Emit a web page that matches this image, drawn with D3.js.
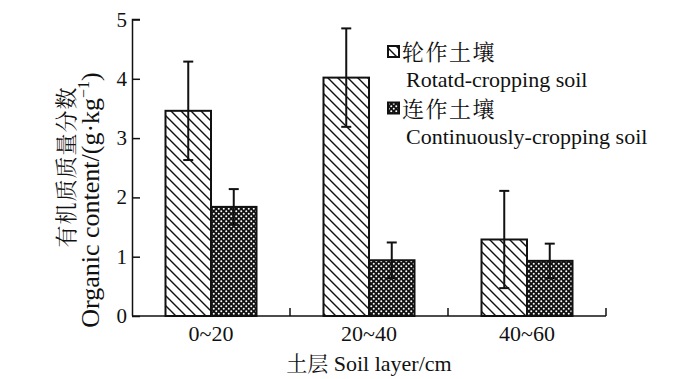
<!DOCTYPE html>
<html>
<head>
<meta charset="utf-8">
<script src="https://cdn.jsdelivr.net/npm/d3@7"></script>
<style>
  body { margin: 0; background: #fff; }
  text { font-family: "Liberation Serif", "Times New Roman", serif; fill: #111; }
  .cjk { font-family: "Noto Serif CJK SC", "Noto Sans CJK SC", sans-serif; }
</style>
</head>
<body>
<div id="chart"></div>
<script>
// soil layers and organic content (g/kg)
const layers = ['0~20', '20~40', '40~60']
const rotated = [3.46, 4.02, 1.29]
const rotatedErr = [0.83, 0.83, 0.82]
const continuous = [1.84, 0.94, 0.93]
const continuousErr = [0.30, 0.30, 0.29]
const yTicks = [0, 1, 2, 3, 4, 5]

const width = 700
const height = 379
const margin = { top: 19.5, right: 94, bottom: 63, left: 132 }

const svg = d3.select('#chart')
    .append('svg')
    .attr('width', width)
    .attr('height', height)

// patterns for the two soil types
const defs = svg.append('defs')
const hatch = defs.append('pattern')
    .attr('id', 'hatch')
    .attr('patternUnits', 'userSpaceOnUse')
    .attr('width', 10)
    .attr('height', 10)
hatch.append('rect').attr('width', 10).attr('height', 10).attr('fill', '#fff')
hatch.append('path')
    .attr('d', 'M-2,-2 L12,12 M-7,3 L7,17 M3,-7 L17,7')
    .attr('stroke', '#111')
    .attr('stroke-width', 1.4)

const cross = defs.append('pattern')
    .attr('id', 'cross')
    .attr('patternUnits', 'userSpaceOnUse')
    .attr('width', 5)
    .attr('height', 5)
cross.append('rect').attr('width', 5).attr('height', 5).attr('fill', '#111')
cross.append('circle').attr('cx', 1.25).attr('cy', 1.25).attr('r', 1).attr('fill', '#fff')
cross.append('circle').attr('cx', 3.75).attr('cy', 3.75).attr('r', 1).attr('fill', '#fff')

const x0 = d3.scaleBand()
    .domain(layers)
    .range([margin.left, width - margin.right])

const yScale = d3.scaleLinear()
    .domain([0, 5])
    .range([height - margin.bottom, margin.top])

const barW = 45.5
const series = [
    { values: rotated, err: rotatedErr, fill: 'url(#hatch)', offset: -barW },
    { values: continuous, err: continuousErr, fill: 'url(#cross)', offset: 0 }
]

// bars
series.forEach(s => {
    svg.append('g')
        .selectAll('rect')
        .data(layers)
        .enter()
        .append('rect')
            .attr('x', d => x0(d) + x0.bandwidth() / 2 + s.offset)
            .attr('y', (d, i) => yScale(s.values[i]))
            .attr('width', barW)
            .attr('height', (d, i) => yScale(0) - yScale(s.values[i]))
            .attr('fill', s.fill)
            .attr('stroke', '#111')
            .attr('stroke-width', 2)
})

// error bars
series.forEach(s => {
    const g = svg.append('g')
    layers.forEach((d, i) => {
        const cx = x0(d) + x0.bandwidth() / 2 + s.offset + barW / 2
        const top = yScale(s.values[i] + s.err[i])
        const bot = yScale(s.values[i] - s.err[i])
        g.append('line')
            .attr('x1', cx).attr('x2', cx)
            .attr('y1', top).attr('y2', bot)
            .attr('stroke', '#111').attr('stroke-width', 2)
        g.append('line')
            .attr('x1', cx - 5).attr('x2', cx + 5)
            .attr('y1', top).attr('y2', top)
            .attr('stroke', '#111').attr('stroke-width', 2)
        g.append('line')
            .attr('x1', cx - 5).attr('x2', cx + 5)
            .attr('y1', bot).attr('y2', bot)
            .attr('stroke', '#111').attr('stroke-width', 2)
    })
})

// y axis, ticks pointing inward
const yAxis = d3.axisRight(yScale)
    .tickValues(yTicks)
    .tickSize(8)
    .tickFormat('')
const yGroup = svg.append('g')
    .attr('transform', `translate(${margin.left},0)`)
    .call(yAxis)
yGroup.selectAll('path, line').attr('stroke', '#111').attr('stroke-width', 1.5)
yGroup.select('.domain').attr('d', `M0.5,${yScale(0)}V${yScale(5)}H8`)

svg.append('g')
    .selectAll('text')
    .data(yTicks)
    .enter()
    .append('text')
        .attr('x', margin.left - 5)
        .attr('y', d => yScale(d) + 7)
        .attr('text-anchor', 'end')
        .attr('font-size', '21px')
        .text(d => d)

// x axis, ticks at band edges pointing up
const edges = layers.map(d => x0(d)).concat([width - margin.right])
svg.append('line')
    .attr('x1', margin.left).attr('x2', width - margin.right)
    .attr('y1', yScale(0)).attr('y2', yScale(0))
    .attr('stroke', '#111').attr('stroke-width', 1.5)
svg.append('g')
    .selectAll('line')
    .data(edges.slice(1))
    .enter()
    .append('line')
        .attr('x1', d => d).attr('x2', d => d)
        .attr('y1', yScale(0)).attr('y2', yScale(0) - 8)
        .attr('stroke', '#111').attr('stroke-width', 1.5)

svg.append('g')
    .selectAll('text')
    .data(layers)
    .enter()
    .append('text')
        .attr('x', d => x0(d) + x0.bandwidth() / 2)
        .attr('y', 341)
        .attr('text-anchor', 'middle')
        .attr('font-size', '22px')
        .text(d => d)

// axis titles
const xTitle = svg.append('text')
    .attr('x', (margin.left + width - margin.right) / 2)
    .attr('y', 371)
    .attr('text-anchor', 'middle')
    .attr('font-size', '22px')
xTitle.append('tspan').attr('class', 'cjk').attr('font-size', '21px').text('土层 ')
xTitle.append('tspan').text('Soil layer/cm')

svg.append('text')
    .attr('class', 'cjk')
    .attr('transform', 'translate(74,167) rotate(-90)')
    .attr('text-anchor', 'middle')
    .attr('font-size', '22px')
    .attr('letter-spacing', '1px')
    .text('有机质质量分数')

const yTitle = svg.append('text')
    .attr('transform', 'translate(99,200) rotate(-90)')
    .attr('text-anchor', 'middle')
    .attr('font-size', '26px')
yTitle.append('tspan').text('Organic content/(g\u00B7kg')
yTitle.append('tspan').attr('font-size', '16px').attr('dy', -10).text('\u22121')
yTitle.append('tspan').attr('dy', 10).text(')')

// legend
const legendNames = [
    ['轮作土壤', 'Rotatd-cropping soil', 'url(#hatch)'],
    ['连作土壤', 'Continuously-cropping soil', 'url(#cross)']
]
const legend = svg.append('g')
legendNames.forEach((d, i) => {
    const y0 = 46 + i * 56.5
    legend.append('rect')
        .attr('x', 388).attr('y', y0)
        .attr('width', 11).attr('height', 11)
        .attr('fill', d[2])
        .attr('stroke', '#111').attr('stroke-width', 2)
    legend.append('text')
        .attr('class', 'cjk')
        .attr('x', 402).attr('y', y0 + 14)
        .attr('font-size', '22px')
        .attr('letter-spacing', '1.5px')
        .text(d[0])
    legend.append('text')
        .attr('x', 406).attr('y', y0 + 41)
        .attr('font-size', '22px')
        .text(d[1])
})
</script>
</body>
</html>
